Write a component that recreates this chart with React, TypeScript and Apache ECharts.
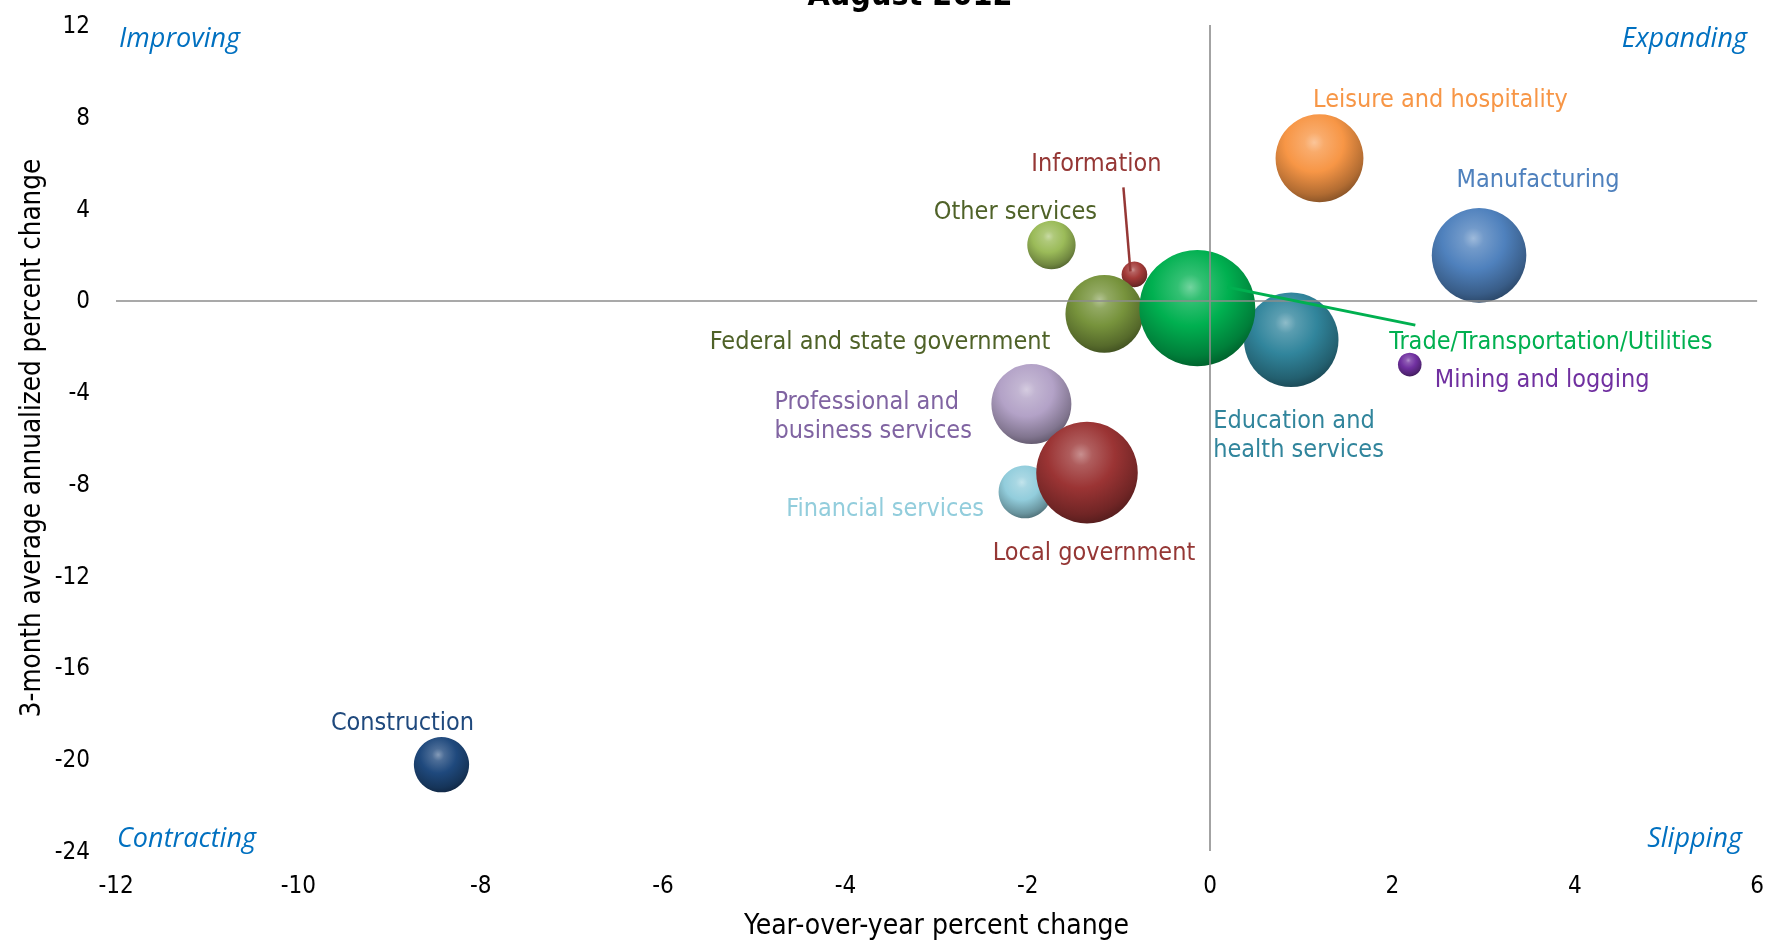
import React, { useEffect, useRef } from "react";
import * as echarts from "echarts";

// ---------- data ----------
const sectors = [
  "Construction",
  "Mining and logging",
  "Information",
  "Other services",
  "Financial services",
  "Professional and\nbusiness services",
  "Local government",
  "Federal and state government",
  "Education and\nhealth services",
  "Trade/Transportation/Utilities",
  "Leisure and hospitality",
  "Manufacturing",
];
// Year-over-year percent change
const yoyChange = [-8.43, 2.19, -0.83, -1.74, -2.03, -1.96, -1.35, -1.16, 0.89, -0.14, 1.2, 2.95];
// 3-month average annualized percent change
const threeMonthChange = [-20.24, -2.8, 1.13, 2.41, -8.35, -4.52, -7.51, -0.59, -1.72, -0.34, 6.19, 1.96];
// relative employment weight (bubble area)
const employmentWeight = [60, 11, 13, 46, 55, 126, 203, 119, 176, 265, 152, 176];

const xRange = { min: -12, max: 6, interval: 2 };
const yRange = { min: -24, max: 12, interval: 4 };
const quadrantLabels = ["Improving", "Expanding", "Contracting", "Slipping"];
const titleText = "August 2012";
const xTitle = "Year-over-year percent change";
const yTitle = "3-month average annualized percent change";

// ---------- styles ----------
const bubbleColors = [
  "#1F497D", "#7030A0", "#A33A38", "#9BBB59", "#92CDDC", "#B3A2C7",
  "#9B3434", "#77933C", "#31859C", "#00B050", "#F79646", "#4F81BD",
];
const labelColors = [
  "#1F497D", "#7030A0", "#953735", "#4F6228", "#92CDDC", "#8064A2",
  "#953735", "#4F6228", "#31859C", "#00B050", "#F79646", "#4F81BD",
];
// label offsets relative to bubble centre (px) and alignment
const labelLayoutCfg: { off: [number, number]; align: string }[] = [
  { off: [-39, -43], align: "center" },
  { off: [25, 14], align: "left" },
  { off: [-38, -112], align: "center" },
  { off: [-36, -35], align: "center" },
  { off: [-41, 16], align: "right" },
  { off: [-257, 11], align: "left" },
  { off: [7, 79], align: "center" },
  { off: [-54, 27], align: "right" },
  { off: [-78, 94], align: "left" },
  { off: [192, 32], align: "left" },
  { off: [121, -60], align: "center" },
  { off: [59, -77], align: "center" },
];

const FONT = "'DejaVu Sans Condensed', 'DejaVu Sans', sans-serif";

function shade(hex: string, f: number): string {
  const n = parseInt(hex.slice(1), 16);
  let r = (n >> 16) & 255, g = (n >> 8) & 255, b = n & 255;
  if (f >= 0) {
    r = r + (255 - r) * f; g = g + (255 - g) * f; b = b + (255 - b) * f;
  } else {
    r = r * (1 + f); g = g * (1 + f); b = b * (1 + f);
  }
  return `rgb(${Math.round(r)},${Math.round(g)},${Math.round(b)})`;
}

function sphere(c: string) {
  return new echarts.graphic.RadialGradient(0.44, 0.32, 0.74, [
    { offset: 0, color: shade(c, 0.45) },
    { offset: 0.15, color: shade(c, 0.2) },
    { offset: 0.45, color: c },
    { offset: 0.8, color: shade(c, -0.28) },
    { offset: 0.94, color: shade(c, -0.45) },
    { offset: 1, color: shade(c, -0.25) },
  ]);
}

export default function App() {
  const ref = useRef<HTMLDivElement>(null);
  useEffect(() => {
    document.body.style.margin = "0";
    const chart = echarts.init(ref.current!, null, { renderer: "svg" });
    const data = sectors.map((name, i) => ({
      name,
      value: [yoyChange[i], threeMonthChange[i], employmentWeight[i]],
      itemStyle: { color: sphere(bubbleColors[i]), opacity: 1 },
      label: {
        show: true,
        formatter: name,
        position: "inside",
        verticalAlign: "middle",
        color: labelColors[i],
        fontSize: 25,
        fontFamily: FONT,
        lineHeight: 29,
        opacity: 1,
      },
    }));
    chart.setOption({
      animation: false,
      grid: { left: 116, right: 9, top: 25, bottom: 92 },
      xAxis: {
        type: "value",
        min: xRange.min,
        max: xRange.max,
        interval: xRange.interval,
        axisLine: { show: false },
        axisTick: { show: false },
        splitLine: { show: false },
        axisLabel: { color: "#000", fontSize: 24, fontFamily: FONT, margin: 22 },
        name: xTitle,
        nameLocation: "middle",
        nameGap: 59,
        nameTextStyle: { color: "#000", fontSize: 28, fontFamily: FONT },
      },
      yAxis: {
        type: "value",
        min: yRange.min,
        max: yRange.max,
        interval: yRange.interval,
        axisLine: { show: false },
        axisTick: { show: false },
        splitLine: { show: false },
        axisLabel: { color: "#000", fontSize: 24, fontFamily: FONT, margin: 26 },
        name: yTitle,
        nameLocation: "middle",
        nameGap: 71,
        nameTextStyle: { color: "#000", fontSize: 27.5, fontFamily: FONT },
      },
      series: [
        {
          type: "scatter",
          z: 1,
          data: [],
          silent: true,
          markLine: {
            silent: true,
            symbol: ["none", "none"],
            label: { show: false },
            lineStyle: { color: "#8c8c8c", width: 1.6, type: "solid" },
            data: [{ xAxis: 0 }, { yAxis: 0 }],
          },
        },
        {
          type: "scatter",
          z: 3,
          symbolSize: (v: number[]) => 7.128 * Math.sqrt(v[2]),
          data,
          labelLayout: (p: any) => {
            const cfg = labelLayoutCfg[p.dataIndex];
            const r = p.rect;
            const cx = r.x + r.width / 2;
            const cy = r.y + r.height / 2;
            const ax = cfg.align === "left" ? 0 : cfg.align === "right" ? -p.labelRect.width : -p.labelRect.width / 2;
            return {
              x: cx + cfg.off[0] + ax,
              y: cy + cfg.off[1] - p.labelRect.height / 2,
              align: "left",
              verticalAlign: "top",
              hideOverlap: false,
            };
          },
        },
      ],
    });

    const px = (i: number) =>
      chart.convertToPixel({ seriesIndex: 1 }, [yoyChange[i], threeMonthChange[i]]) as number[];
    const info = px(sectors.indexOf("Information"));
    const trade = px(sectors.indexOf("Trade/Transportation/Utilities"));
    const qStyle = { fill: "#0070C0", fontSize: 27, fontStyle: "italic", fontFamily: "'Open Sans', sans-serif" };
    chart.setOption({
      graphic: [
        {
          type: "text",
          x: 910,
          y: -6,
          style: {
            text: titleText,
            fill: "#000",
            fontSize: 32,
            fontWeight: "bold",
            fontFamily: FONT,
            align: "center",
            verticalAlign: "middle",
          },
          z: 10,
        },
        { type: "text", x: 119, y: 36, style: { ...qStyle, text: quadrantLabels[0], align: "left", verticalAlign: "middle" } },
        { type: "text", x: 1747, y: 36, style: { ...qStyle, text: quadrantLabels[1], align: "right", verticalAlign: "middle" } },
        { type: "text", x: 117, y: 836, style: { ...qStyle, text: quadrantLabels[2], align: "left", verticalAlign: "middle" } },
        { type: "text", x: 1742, y: 836, style: { ...qStyle, text: quadrantLabels[3], align: "right", verticalAlign: "middle" } },
        {
          type: "line",
          z: 20,
          shape: { x1: info[0] - 11, y1: info[1] - 87, x2: info[0] - 4, y2: info[1] - 3 },
          style: { stroke: "#953735", lineWidth: 2.5 },
        },
        {
          type: "line",
          z: 20,
          shape: { x1: trade[0] + 30, y1: trade[1] - 21, x2: trade[0] + 218, y2: trade[1] + 17 },
          style: { stroke: "#00B050", lineWidth: 3 },
        },
      ],
    });
    return () => chart.dispose();
  }, []);
  return <div ref={ref} style={{ position: "fixed", left: 0, top: 0, width: 1767, height: 943 }} />;
}
